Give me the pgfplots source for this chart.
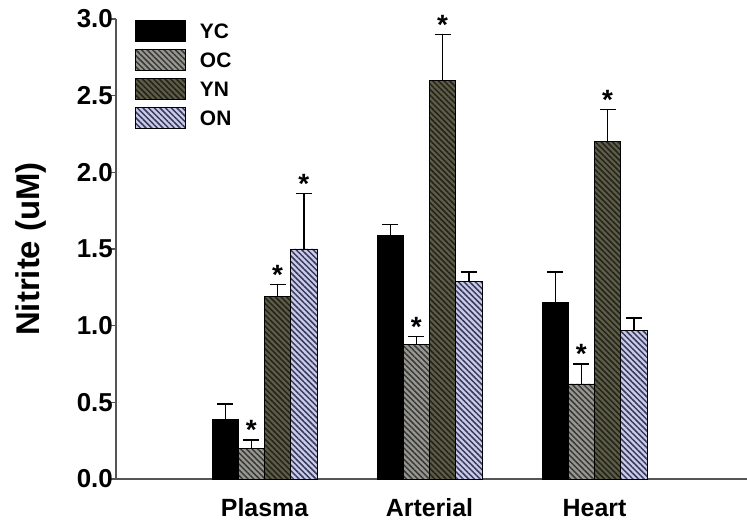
\documentclass[border=0pt]{standalone}
\usepackage{fontspec}
\setmainfont{Liberation Sans}
\usepackage{pgfplots}
\pgfplotsset{compat=1.18}
\usetikzlibrary{patterns.meta}

\definecolor{ocfill}{HTML}{989890}
\definecolor{ocline}{HTML}{383838}
\definecolor{ynfill}{HTML}{5C5C48}
\definecolor{ynline}{HTML}{222218}
\definecolor{onfill}{HTML}{CACAEA}
\definecolor{online}{HTML}{383858}
\definecolor{axgray}{HTML}{555555}

\pgfplotsset{
  mybar/.style={ybar, bar width=0.159, bar shift=0pt, draw=black, line width=0.8bp},
  errb/.style={forget plot, draw=none, no markers,
    /pgfplots/error bars/y dir=plus,
    /pgfplots/error bars/y explicit,
    /pgfplots/error bars/error bar style={line width=1.3bp, draw=black},
    /pgfplots/error bars/error mark options={rotate=90, mark size=8bp, line width=1.3bp, draw=black}},
  mylegend/.style={legend image code/.code={\draw[##1] (0bp,-3bp) rectangle (50bp,18bp); \path (64bp,0bp);}},
  star/.style={only marks, mark=*, mark size=0pt, mark options={draw=none, fill=none}, forget plot,
    nodes near coords={\fontsize{28}{28}\selectfont\bfseries *},
    every node near coord/.append style={inner sep=0pt, yshift=0bp}}
}

\begin{document}
\begin{tikzpicture}
\begin{axis}[name=ax, at={(0,0)}, anchor=south west,
  scale only axis, width=631bp, height=460bp,
  xmin=0.1, xmax=3.924, ymin=0, ymax=3,
  axis x line*=bottom, axis y line*=left,
  axis line style={draw=axgray, line width=2bp},
  xtick={1,2,3}, xticklabels={Plasma,Arterial,Heart},
  xtick style={draw=none},
  ytick={0,0.5,1,1.5,2,2.5,3},
  ytick style={draw=axgray, line width=1.5bp},
  tick align=outside, major tick length=8bp,
  /pgf/number format/assume math mode=true,
  yticklabel style={/pgf/number format/.cd, fixed, fixed zerofill, precision=1, /tikz/.cd,
    font=\fontsize{26}{26}\selectfont\bfseries, inner sep=0pt, anchor=east, xshift=5bp},
  xticklabel style={font=\fontsize{25}{25}\selectfont\bfseries, inner sep=0pt, anchor=north,
    text height=0.72em, text depth=0.2em, yshift=-22bp},
  ylabel={Nitrite (uM)},
  ylabel style={font=\fontsize{33}{33}\selectfont\bfseries, at={(axis description cs:-0.1347,0.5)}, anchor=center},
  legend style={draw=none, fill=none, inner sep=0pt, at={(axis description cs:0.0301,0.9978)}, anchor=north west,
    row sep=7bp, font=\fontsize{21}{21}\selectfont\bfseries,
    nodes={inner sep=0pt, anchor=base west}},
  legend cell align=left,
  clip=false,
]
\addplot[mybar, fill=black, mylegend] coordinates {
  (0.7615,0.39) (1.7615,1.59) (2.7615,1.15)
};
\addplot[mybar, fill=ocfill, postaction={pattern={Lines[angle=-45,distance=4bp,line width=1.5bp]}, pattern color=ocline}, mylegend] coordinates {
  (0.9205,0.20) (1.9205,0.88) (2.9205,0.62)
};
\addplot[mybar, fill=ynfill, postaction={pattern={Lines[angle=-45,distance=4bp,line width=1.5bp]}, pattern color=ynline}, mylegend] coordinates {
  (1.0795,1.19) (2.0795,2.60) (3.0795,2.20)
};
\addplot[mybar, fill=onfill, postaction={pattern={Lines[angle=-45,distance=4bp,line width=1.5bp]}, pattern color=online}, mylegend] coordinates {
  (1.2385,1.50) (2.2385,1.29) (3.2385,0.97)
};
\legend{YC,OC,YN,ON}
% error bars (upper only)
\addplot[errb] coordinates {
  (0.7615,0.39) +- (0,0.10)
  (1.7615,1.59) +- (0,0.07)
  (2.7615,1.15) +- (0,0.20)
};
\addplot[errb] coordinates {
  (0.9205,0.20) +- (0,0.055)
  (1.9205,0.88) +- (0,0.05)
  (2.9205,0.62) +- (0,0.13)
};
\addplot[errb] coordinates {
  (1.0795,1.19) +- (0,0.08)
  (2.0795,2.60) +- (0,0.30)
  (3.0795,2.20) +- (0,0.21)
};
\addplot[errb] coordinates {
  (1.2385,1.50) +- (0,0.36)
  (2.2385,1.29) +- (0,0.06)
  (3.2385,0.97) +- (0,0.08)
};
\addplot[star] coordinates {
  (0.9205,0.255) (1.0795,1.27) (1.2385,1.86)
  (1.9205,0.93) (2.0795,2.90)
  (2.9205,0.75) (3.0795,2.41)
};
\end{axis}
\pgfresetboundingbox
\path[use as bounding box] ([xshift=-116bp,yshift=-46bp]ax.south west) rectangle ([yshift=19bp]ax.north east);
\end{tikzpicture}
\end{document}
